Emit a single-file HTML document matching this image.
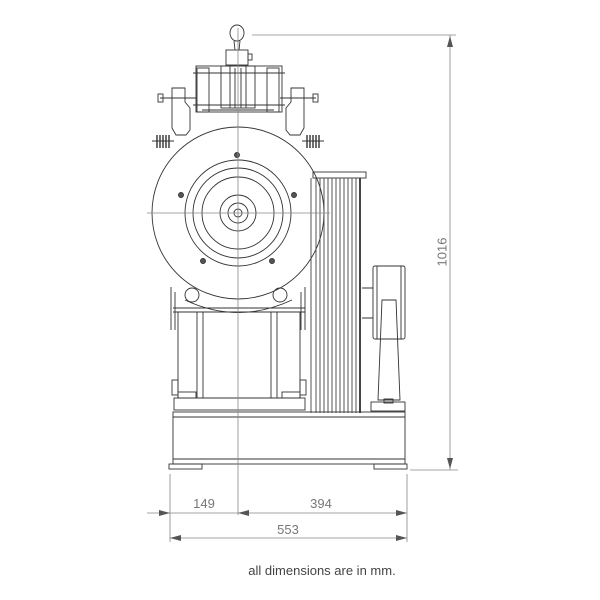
<!DOCTYPE html>
<html><head><meta charset="utf-8"><style>
html,body{margin:0;padding:0;background:#fff;width:600px;height:600px;overflow:hidden}
svg{display:block}
text{font-family:"Liberation Sans",sans-serif;fill:#777}
</style></head><body>
<svg width="600" height="600" viewBox="0 0 600 600" xmlns="http://www.w3.org/2000/svg">
<g fill="none" stroke="#333" stroke-width="0.9">
<!-- handle -->
<ellipse cx="237" cy="33" rx="7" ry="8" fill="#fff"/>
<path d="M234 41 L235 50 M240 41 L239 50"/>
<rect x="226" y="50" width="22" height="15"/>
<rect x="248" y="54" width="4" height="6"/>
<!-- brake block -->
<rect x="196" y="66" width="86" height="46"/>
<rect x="221" y="66" width="34" height="42"/>
<path d="M235 68 V108 M241 68 V108 M230 66 V108 M246 66 V108"/>
<rect x="197" y="68" width="12" height="44"/>
<rect x="267" y="68" width="12" height="44"/>
<path d="M193 73 H285 M193 105 H285 M202 110 H274"/>
<!-- side arms -->
<path d="M172 88 H185 V102 L190 108 V130 L186 135 H176 L172 128 Z"/>
<path d="M304 88 H291 V102 L286 108 V130 L290 135 H300 L304 128 Z"/>
<path d="M160 98 H196 M280 98 H316" />
<rect x="158" y="94" width="5" height="8"/><rect x="313" y="94" width="5" height="8"/>
<!-- springs -->
<g stroke="#222" stroke-width="1.3">
<path d="M157 135 V148 M160 135 V148 M163 135 V148 M166 135 V148 M169 135 V148"/>
<path d="M307 135 V148 M310 135 V148 M313 135 V148 M316 135 V148 M319 135 V148"/>
</g>
<path d="M152 141 H174 M302 141 H324"/>
<!-- wheel -->
<circle cx="238" cy="213" r="86" fill="#fff"/>
<circle cx="238" cy="213" r="53"/>
<circle cx="238" cy="213" r="45"/>
<circle cx="238" cy="213" r="36"/>
<circle cx="238" cy="213" r="18"/>
<circle cx="238" cy="213" r="10"/>
<circle cx="238" cy="213" r="4"/>
<g fill="#555"><circle cx="237" cy="155" r="2.5"/><circle cx="181" cy="195" r="2.5"/><circle cx="294" cy="195" r="2.5"/><circle cx="203" cy="261" r="2.5"/><circle cx="272" cy="261" r="2.5"/></g>
<!-- lower gearbox -->
<path d="M171 287 V330 M175 292 V330 M305 287 V330 M301 292 V330"/>
<path d="M173 312 H305 M173 308 H305"/>
<circle cx="192" cy="295" r="7"/><circle cx="280" cy="295" r="7"/>
<path d="M185 300 Q238 325 292 300"/>
<rect x="178" y="312" width="122" height="86"/>
<path d="M197 312 V398 M203 312 V398 M271 312 V398 M277 312 V398"/>
<rect x="172" y="380" width="6" height="15"/><rect x="300" y="380" width="6" height="15"/>
<rect x="178" y="392" width="18" height="6"/><rect x="282" y="392" width="18" height="6"/>
<rect x="174" y="398" width="131" height="12"/>
<!-- radiator -->
<rect x="313" y="172" width="53" height="6"/>
<g stroke="#444">
<path d="M311 178 V413 M316 178 V413 M320 178 V413 M324 178 V413 M328 178 V413 M332 178 V413 M336 178 V413 M340 178 V413 M344 178 V413 M348 178 V413 M352 178 V413 M356 178 V413"/>
<path d="M360 178 V413" stroke-width="2"/>
</g>
<!-- right pedestal -->
<path d="M362 288 H373 M362 318 H373"/>
<rect x="373" y="266" width="32" height="73" rx="2"/>
<path d="M377 266 V339 M401 266 V339"/>
<path d="M382 300 H396 L400 400 H378 Z"/>
<rect x="371" y="402" width="34" height="9"/>
<rect x="384" y="399" width="9" height="4"/>
<!-- base -->
<rect x="173" y="412" width="232" height="52"/>
<path d="M173 417 H405 M173 459 H405"/>
<rect x="169" y="464" width="33" height="5"/>
<rect x="374" y="464" width="33" height="5"/>
</g>
<!-- centre lines & dimensions -->
<g stroke="#888" stroke-width="0.8" fill="none">
<path d="M238 28 V515"/>
<path d="M147 213 H330"/>
<path d="M252 35 H456 M410 470 H458 M450 35 V470"/>
<path d="M170 474 V542 M407 474 V542"/>
<path d="M147 513 H407 M170 538 H407"/>
</g>
<g fill="#555">
<path d="M450 36 L447 47 L453 47 Z"/>
<path d="M450 469 L447 458 L453 458 Z"/>
<path d="M170 513 L159 510 L159 516 Z"/>
<path d="M238 513 L249 510 L249 516 Z"/>
<path d="M407 513 L396 510 L396 516 Z"/>
<path d="M170 538 L181 535 L181 541 Z"/>
<path d="M407 538 L396 535 L396 541 Z"/>
</g>
<text x="443" y="252" font-size="13" text-anchor="middle" transform="rotate(-90 443 252)" dominant-baseline="middle">1016</text>
<text x="204" y="508" font-size="13" text-anchor="middle">149</text>
<text x="321" y="508" font-size="13" text-anchor="middle">394</text>
<text x="288" y="534" font-size="13" text-anchor="middle">553</text>
<text x="322" y="575" font-size="13" text-anchor="middle" style="fill:#444">all dimensions are in mm.</text>
</svg>
</body></html>
